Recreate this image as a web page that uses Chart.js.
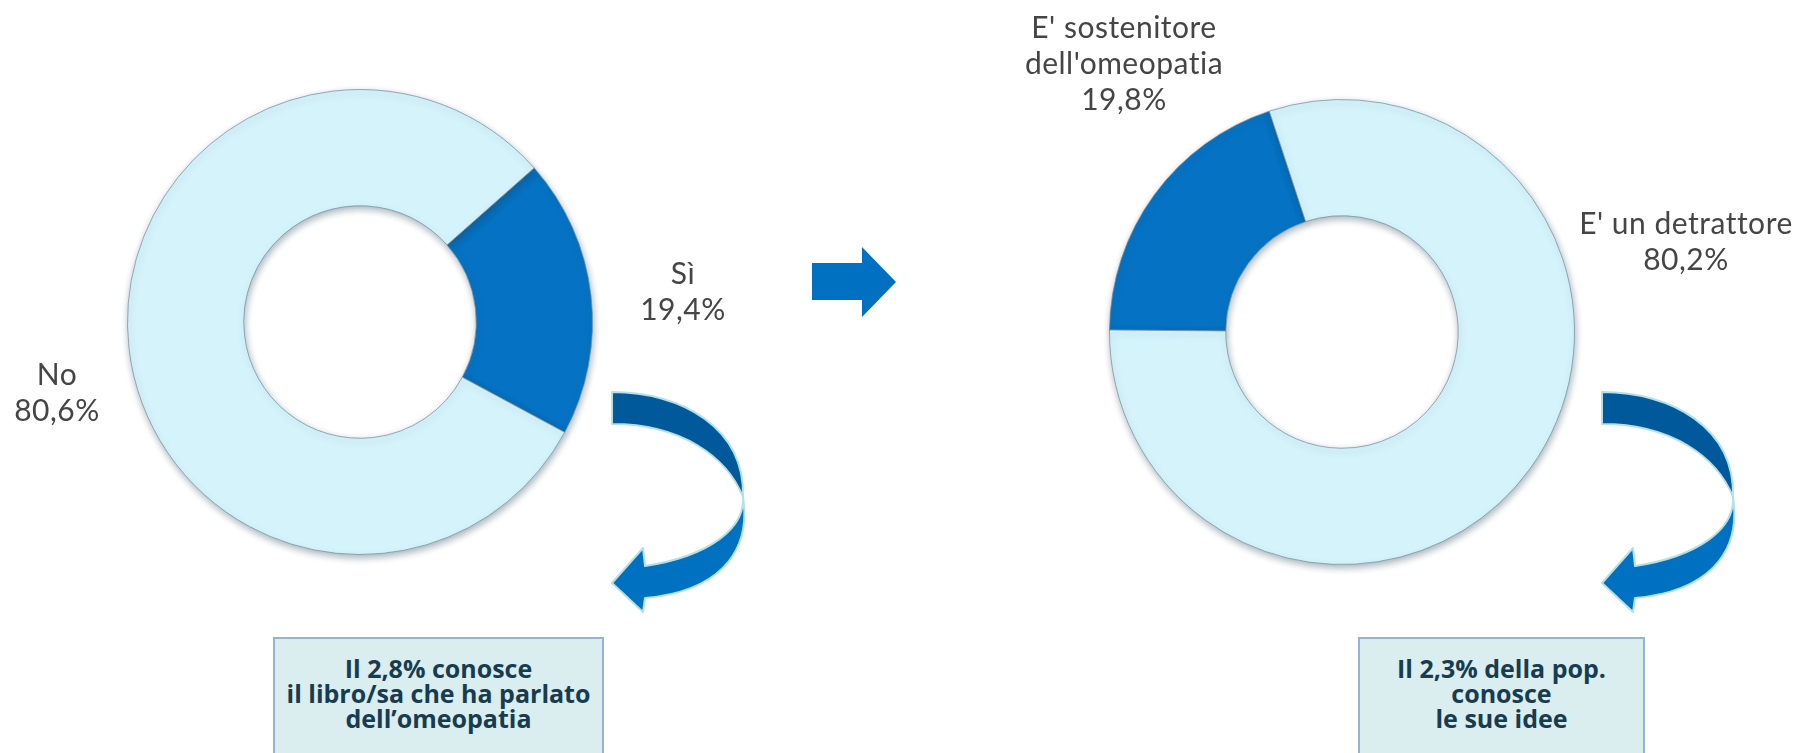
<!DOCTYPE html>
<html>
<head>
<meta charset="utf-8">
<script src="https://cdn.jsdelivr.net/npm/chart.js@4/dist/chart.umd.min.js"></script>
<style>
  body { margin: 0; width: 1800px; height: 753px; background: #fff; position: relative; overflow: hidden; font-family: Lato, "Open Sans", sans-serif; }
  canvas { position: absolute; }
  .lbl { position: absolute; color: #454545; font-size: 30px; font-weight: 400; line-height: 36px; text-align: center;
         transform: translate(-50%, -50%); white-space: nowrap; font-variant-ligatures: none; letter-spacing: 0.5px; }
  .note { position: absolute; top: 637px; height: 130px; background: #daedef; border: 2px solid #95b3d7; box-sizing: border-box;
          font-family: "Open Sans", sans-serif; color: #173c50; font-weight: bold; font-size: 25px; line-height: 25px;
          text-align: center; padding-top: 17px; white-space: nowrap; }
  svg { position: absolute; left: 0; top: 0; }
</style>
</head>
<body>
<canvas id="chartLeft" width="500" height="500" style="left:110px; top:72px"></canvas>
<canvas id="chartRight" width="500" height="500" style="left:1092px; top:82px"></canvas>

<svg width="1800" height="753">
  <polygon points="812,263 862,263 862,247 896,282 862,317 862,300 812,300" fill="#0070c0"/>
  <g id="curveArrow" stroke="#b4e0e6" stroke-width="2" stroke-linejoin="round">
    <path d="M612 392 C682 392 745 428 743 497 C727 457 682 424 612 424 Z" fill="#00599b"/>
    <path d="M743 497 C745 528 710 556 645 566 L643 548 L612 583 L643 612 L645 598 C714 592 752 556 743 497 Z" fill="#0070c0"/>
  </g>
  <use href="#curveArrow" x="990" y="0"/>
</svg>

<div class="lbl" id="lblSi" style="left:683px; top:290px"></div>
<div class="lbl" id="lblNo" style="left:57px; top:391px"></div>
<div class="lbl" id="lblSost" style="left:1124px; top:62px"></div>
<div class="lbl" id="lblDetr" style="left:1686px; top:240px"></div>

<div class="note" id="noteLeft" style="left:273px; width:331px"></div>
<div class="note" id="noteRight" style="left:1358px; width:287px"></div>

<script>
const leftLabels = ['Sì', 'No'];
const leftValues = [19.4, 80.6];
const rightLabels = ["E' sostenitore\ndell'omeopatia", "E' un detrattore"];
const rightValues = [19.8, 80.2];
const noteLeft = ['Il 2,8% conosce', 'il libro/sa che ha parlato', 'dell’omeopatia'];
const noteRight = ['Il 2,3% della pop.', 'conosce', 'le sue idee'];

const darkBlue = '#0672c3';
const lightBlue = '#d5f3fb';

function formatPct(v) {
  return v.toFixed(1).replace('.', ',') + '%';
}

function setLabel(id, label, value) {
  const el = document.getElementById(id);
  el.innerHTML = label.split('\n').concat(formatPct(value)).join('<br>');
}

setLabel('lblSi', leftLabels[0], leftValues[0]);
setLabel('lblNo', leftLabels[1], leftValues[1]);
setLabel('lblSost', rightLabels[0], rightValues[0]);
setLabel('lblDetr', rightLabels[1], rightValues[1]);

document.getElementById('noteLeft').innerHTML = noteLeft.join('<br>');
document.getElementById('noteRight').innerHTML = noteRight.join('<br>');

// ombra leggera per dare un po' di rilievo all'anello
const shadowPlugin = {
  id: 'ringShadow',
  beforeDatasetsDraw(chart) {
    const ctx = chart.ctx;
    ctx.save();
    ctx.shadowColor = 'rgba(40, 70, 90, 0.4)';
    ctx.shadowBlur = 7;
    ctx.shadowOffsetX = 1;
    ctx.shadowOffsetY = 3;
  },
  afterDatasetsDraw(chart) {
    chart.ctx.restore();
  }
};

function makeDonut(id, labels, values, rotation) {
  const ctx = document.getElementById(id).getContext('2d');
  return new Chart(ctx, {
    type: 'doughnut',
    data: {
      labels: labels,
      datasets: [{
        data: values,
        backgroundColor: [darkBlue, lightBlue],
        borderColor: 'rgba(110, 140, 155, 0.7)',
        borderWidth: 1
      }]
    },
    options: {
      responsive: false,
      animation: false,
      rotation: rotation,
      cutout: '50%',
      layout: { padding: 17 },
      plugins: {
        legend: { display: false },
        tooltip: { enabled: false }
      }
    },
    plugins: [shadowPlugin]
  });
}

makeDonut('chartLeft', leftLabels, leftValues, 48.5);
makeDonut('chartRight', rightLabels, rightValues, 270.5);
</script>
</body>
</html>
